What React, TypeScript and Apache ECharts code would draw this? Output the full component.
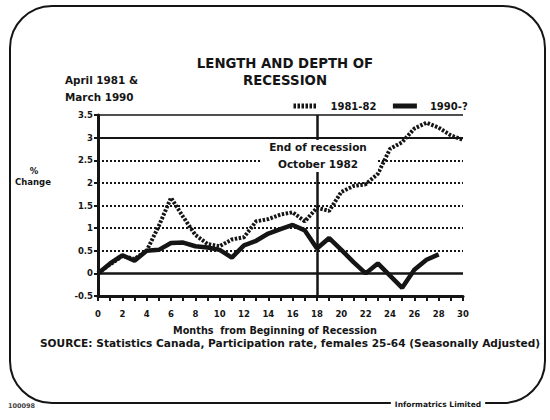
import React, { useEffect, useRef } from "react";
import * as echarts from "echarts";

const months1981 = [0, 1, 2, 3, 4, 5, 6, 7, 8, 9, 10, 11, 12, 13, 14, 15, 16, 17, 18, 19, 20, 21, 22, 23, 24, 25, 26, 27, 28, 29, 30];
const values1981 = [0, 0.2, 0.38, 0.32, 0.5, 1.05, 1.67, 1.25, 0.85, 0.65, 0.6, 0.75, 0.8, 1.15, 1.2, 1.3, 1.35, 1.15, 1.45, 1.38, 1.8, 1.93, 1.97, 2.2, 2.75, 2.9, 3.2, 3.33, 3.22, 3.05, 2.95];
const months1990 = [0, 1, 2, 3, 4, 5, 6, 7, 8, 9, 10, 11, 12, 13, 14, 15, 16, 17, 18, 19, 20, 21, 22, 23, 24, 25, 26, 27, 28];
const values1990 = [0, 0.22, 0.4, 0.28, 0.5, 0.52, 0.67, 0.68, 0.6, 0.57, 0.52, 0.35, 0.62, 0.72, 0.88, 0.98, 1.07, 0.95, 0.55, 0.78, 0.52, 0.25, 0.0, 0.22, -0.05, -0.32, 0.08, 0.3, 0.42];
const seriesNames = ["1981-82", "1990-?"];
const solidLevels = [3.5, 3];
const dottedLevels = [2.5, 2, 1.5, 1, 0.5];
const zeroLevel = 0;
const recessionEndMonth = 18;

const FONT = '"DejaVu Sans", "Liberation Sans", sans-serif';
const INK = "#151515";

export default function App() {
  const ref = useRef<HTMLDivElement>(null);
  useEffect(() => {
    document.body.style.margin = "0";
    const chart = echarts.init(ref.current!, null, { renderer: "svg" });
    const txt = (text: string, x: number, y: number, size: number, align = "center", extra: any = {}) => ({
      type: "text",
      x,
      y,
      z: 100,
      silent: true,
      style: {
        text,
        fontFamily: FONT,
        fontWeight: "bold",
        fontSize: size,
        fill: INK,
        align,
        verticalAlign: "middle",
        ...extra,
      },
    });
    const markData: any[] = [
      ...solidLevels.map((v, i) => ({ yAxis: v, lineStyle: { type: "solid", width: i === 0 ? 1.5 : 2, color: INK } })),
      ...dottedLevels.map((v) => ({ yAxis: v, lineStyle: { type: [2, 2], width: 2, color: INK } })),
      { yAxis: zeroLevel, lineStyle: { type: "solid", width: 2.5, color: INK } },
      [
        { coord: [recessionEndMonth, 3.5], lineStyle: { type: "solid", width: 2.5, color: INK } },
        { coord: [recessionEndMonth, -0.5] },
      ],
    ];
    chart.setOption({
      animation: false,
      backgroundColor: "#ffffff",
      grid: { left: 98, right: 87, top: 115, bottom: 124 },
      legend: {
        data: seriesNames,
        left: 286,
        top: 96,
        itemWidth: 24,
        itemHeight: 8,
        itemGap: 14,
        itemStyle: { opacity: 0 },
        lineStyle: { width: 5 },
        textStyle: { fontFamily: FONT, fontWeight: "bold", fontSize: 10, color: INK, padding: [0, 0, 0, 8] },
      },
      xAxis: {
        type: "value",
        min: 0,
        max: 30,
        interval: 1,
        axisLine: { onZero: false, lineStyle: { color: INK, width: 3 } },
        axisTick: { length: 5, lineStyle: { color: INK, width: 2 } },
        axisLabel: {
          fontFamily: FONT,
          fontWeight: "bold",
          fontSize: 8.5,
          color: INK,
          margin: 13,
          formatter: (v: number) => (v % 2 === 0 ? String(v) : ""),
        },
        splitLine: { show: false },
      },
      yAxis: {
        type: "value",
        min: -0.5,
        max: 3.5,
        interval: 0.5,
        axisLine: { show: true, lineStyle: { color: INK, width: 3 } },
        axisTick: { show: true, length: 4, lineStyle: { color: INK, width: 2 } },
        axisLabel: { fontFamily: FONT, fontWeight: "bold", fontSize: 8.5, color: INK, margin: 5 },
        splitLine: { show: false },
      },
      series: [
        {
          name: seriesNames[0],
          type: "line",
          data: months1981.map((m, i) => [m, values1981[i]]),
          showSymbol: false,
          symbol: "none",
          z: 4,
          lineStyle: { color: INK, width: 4, type: [2.5, 1.5] },
          itemStyle: { color: INK },
          markLine: {
            silent: true,
            symbol: "none",
            label: { show: false },
            z: 3,
            data: markData,
          },
        },
        {
          name: seriesNames[1],
          type: "line",
          data: months1990.map((m, i) => [m, values1990[i]]),
          showSymbol: false,
          symbol: "none",
          z: 5,
          lineStyle: { color: INK, width: 4.5, type: "solid" },
          itemStyle: { color: INK },
        },
      ],
      graphic: [
        {
          type: "rect",
          silent: true,
          z: 0,
          shape: { x: 10, y: 6, width: 535, height: 397, r: 42 },
          style: { fill: "none", stroke: INK, lineWidth: 2 },
        },
        {
          type: "rect",
          silent: true,
          z: 90,
          shape: { x: 262, y: 140, width: 116, height: 32 },
          style: { fill: "#ffffff" },
        },
        txt("LENGTH AND DEPTH OF", 285, 63, 13.3),
        txt("RECESSION", 285, 80, 13.3),
        txt("April 1981 &", 65, 80, 10.4, "left"),
        txt("March 1990", 65, 97, 10.4, "left"),
        txt("%", 34, 171, 8.5),
        txt("Change", 33, 182, 8.5),
        txt("End of recession", 318, 147, 10.5),
        txt("October 1982", 318, 164, 10.5),
        txt("Months  from Beginning of Recession", 275, 330, 9.7),
        txt("SOURCE: Statistics Canada, Participation rate, females 25-64 (Seasonally Adjusted)", 290, 343, 10.6),
        txt("Informatrics Limited", 438, 404, 7.5, "center", { backgroundColor: "#ffffff", padding: [1, 4] }),
        txt("100098", 8, 406, 6.5, "left", { fill: "#444" }),
      ],
    });
    return () => chart.dispose();
  }, []);
  return <div ref={ref} style={{ width: 550, height: 420 }} />;
}
